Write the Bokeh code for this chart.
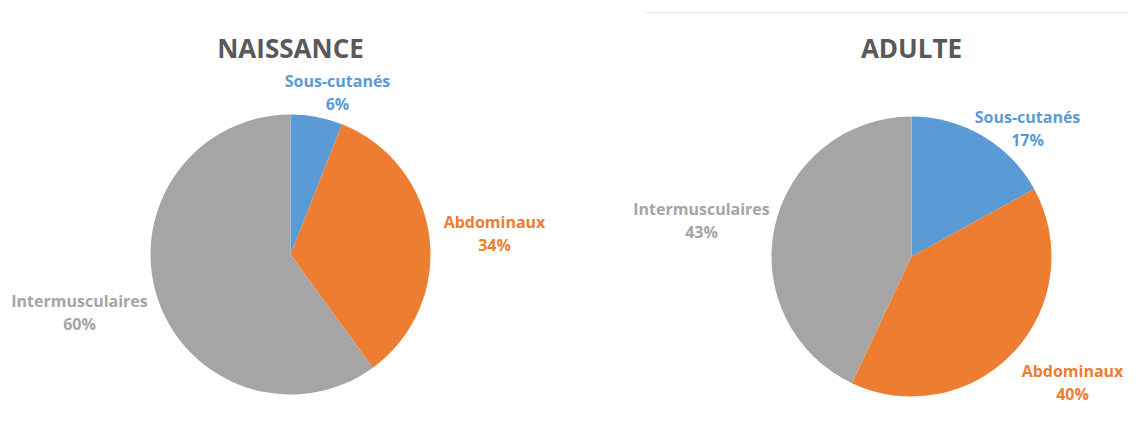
from bokeh.plotting import figure
from bokeh.models import Range1d, ColumnDataSource
from bokeh.core.properties import value
from bokeh.embed import file_html
from bokeh.resources import INLINE
import math

# ---- data ----
categories = ["Sous-cutanés", "Abdominaux", "Intermusculaires"]
naissance_values = [6, 34, 60]
adulte_values = [17, 40, 43]
titles = ["NAISSANCE", "ADULTE"]
colors = ["#5B9BD5", "#ED7D31", "#A5A5A5"]

# ---- layout (page pixels) ----
W, H = 1128, 425
PAGE_H = 433

def Y(py):
    return PAGE_H - py

p = figure(width=W, height=H, output_backend="svg", toolbar_location=None,
           x_range=Range1d(0, W), y_range=Range1d(PAGE_H - H, PAGE_H),
           min_border=0, outline_line_color=None)
p.axis.visible = False
p.grid.visible = False
p.background_fill_color = "white"

# faint frame line at top of right chart
p.segment(x0=[645], y0=[Y(12)], x1=[1136], y1=[Y(12)], line_color="#E3E3E3", line_width=1)

pies = [
    dict(values=naissance_values, title=titles[0], cx=290, cy=254, r=140,
         labels=[(337, 80), (494, 221), (79, 300)]),
    dict(values=adulte_values, title=titles[1], cx=911, cy=256, r=140,
         labels=[(1027, 116), (1072, 370), (701, 208)]),
]

font = value("Open Sans")
for pie in pies:
    vals = pie["values"]
    total = float(sum(vals))
    starts, ends = [], []
    cum = 0.0
    for v in vals:
        a0 = math.pi / 2 - 2 * math.pi * cum / total
        cum += v
        a1 = math.pi / 2 - 2 * math.pi * cum / total
        starts.append(a0)
        ends.append(a1)
    src = ColumnDataSource(dict(x=[pie["cx"]] * len(vals), y=[Y(pie["cy"])] * len(vals),
                                start=starts, end=ends, color=colors))
    p.wedge(x="x", y="y", radius=pie["r"], start_angle="start", end_angle="end",
            direction="clock", fill_color="color", line_color=None, source=src)

    # title
    p.text(x=[pie["cx"]], y=[Y(47)], text=[pie["title"]], text_align="center",
           text_baseline="middle", text_font=font, text_font_style="bold",
           text_font_size="26px", text_color="#595959")

    # data labels
    for cat, v, col, (lx, ly) in zip(categories, vals, colors, pie["labels"]):
        p.text(x=[lx], y=[Y(ly)], text=[cat], text_align="center",
               text_baseline="middle", text_font=font, text_font_style="bold",
               text_font_size="16px", text_color=col)
        p.text(x=[lx], y=[Y(ly + 23)], text=[f"{v}%"], text_align="center",
               text_baseline="middle", text_font=font, text_font_style="bold",
               text_font_size="16px", text_color=col)

open("out.html", "w").write(file_html(p, INLINE))
